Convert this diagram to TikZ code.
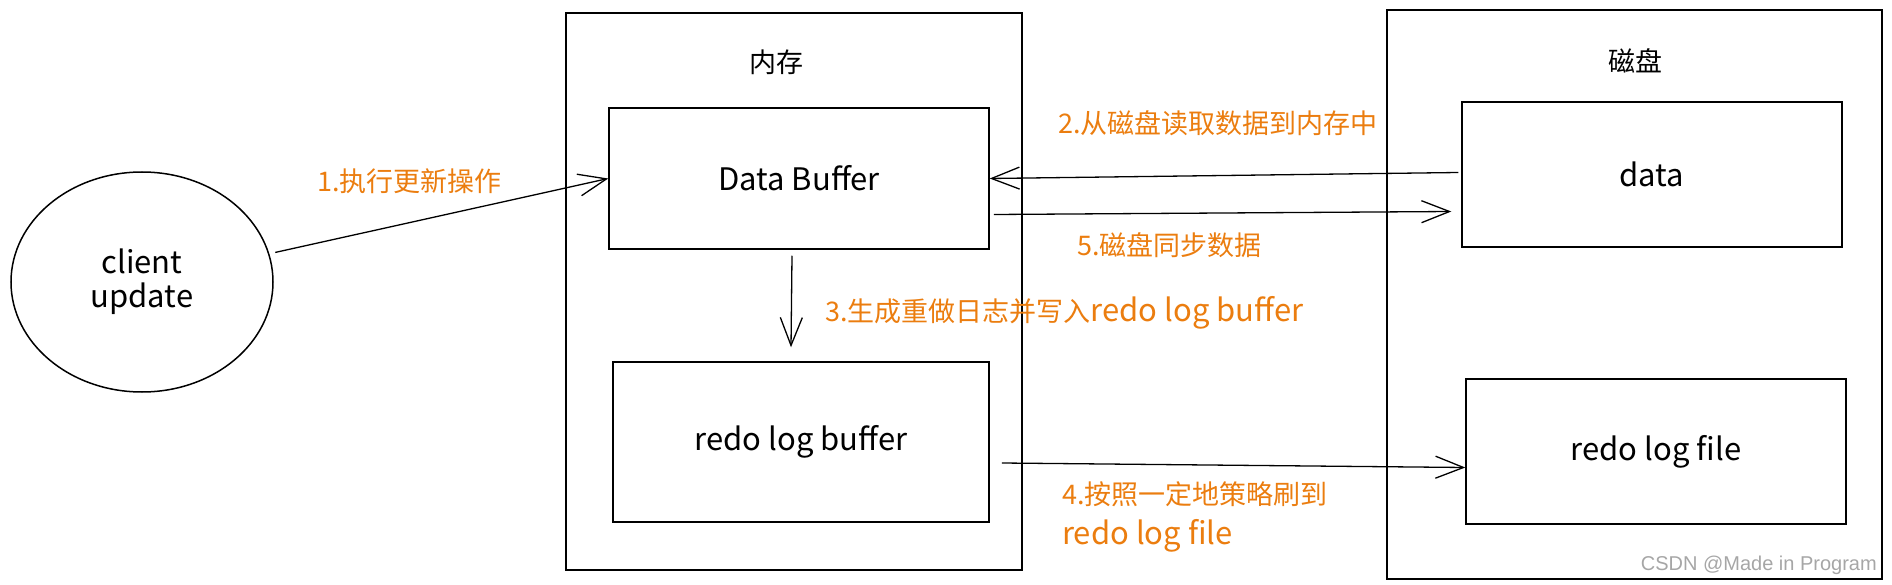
\documentclass[tikz,border=0pt]{standalone}
\usepackage{fontspec}
\usetikzlibrary{arrows.meta,shapes.geometric}
\newfontfamily\cjk{Noto Sans CJK SC}
\newfontfamily\wmfont{Liberation Sans}
\newcommand\latbig{\fontsize{31}{40}\selectfont}
\definecolor{steporange}{RGB}{235,125,15}
\tikzset{
	box/.style={draw,line width=1.5pt,inner sep=0pt,font=\cjk\fontsize{31}{34}\selectfont},
	arr/.style={line width=1.3pt,-{Straight Barb[length=28pt,width=22pt,line width=1.3pt]}},
	lbl/.style={anchor=west,inner sep=0pt,text=steporange,align=left,font=\cjk\fontsize{27}{40}\selectfont}
}
\begin{document}
\begin{tikzpicture}[x=1pt,y=-1pt]
\useasboundingbox (0,0) rectangle (1892,585);
\node[box,minimum width=456pt,minimum height=557pt] (mem) at (794,291.5) {};
\node[box,minimum width=495pt,minimum height=569pt] (disk) at (1634.5,294.5) {};
\node[font=\cjk\fontsize{27}{34}\selectfont] (memtitle) at (776,62) {内存};
\node[font=\cjk\fontsize{27}{34}\selectfont] (disktitle) at (1635,61) {磁盘};
\foreach \n/\x/\y/\w/\h/\t in {databuf/799/178.5/380/141/Data Buffer,redobuf/801/442/376/160/redo log buffer,data/1652/174.5/380/145/data,redofile/1656/451.5/380/145/redo log file}{
	\node[box,minimum width=\w*1pt,minimum height=\h*1pt] (\n) at (\x,\y) {\t};}
\node[box,ellipse,align=center,minimum width=262pt,minimum height=220pt] (client) at (142,282) {client\\update};
\draw[arr,shorten <=6pt] (client) -- (databuf.west);
\draw[arr] ([xshift=-3pt,yshift=2pt]data.west) -- (databuf.east);
\draw[arr] ([shift={(4pt,-36pt)}]databuf.east) -- ([shift={(-10pt,-37pt)}]data.west);
\draw[arr] ([shift={(-7pt,-6pt)}]databuf.south) -- ([shift={(-10pt,14pt)}]redobuf.north);
\draw[arr] ([shift={(12pt,-21pt)}]redobuf.east) -- ([yshift=-16pt]redofile.west);
\node[lbl] (s1) at (317,181) {1.执行更新操作};
\node[lbl] (s2) at (1058,123) {2.从磁盘读取数据到内存中};
\node[lbl] (s3) at (825,313) {3.生成重做日志并写入{\latbig redo log buffer}};
\node[lbl] (s4) at (1062,517) {4.按照一定地策略刷到\\{\latbig redo log file}};
\node[lbl] (s5) at (1077,245) {5.磁盘同步数据};
\node[anchor=east,inner sep=0pt,text=gray!70,font=\wmfont\fontsize{20}{24}\selectfont] (wm) at (1877,565) {CSDN @Made in Program};
\end{tikzpicture}
\end{document}
